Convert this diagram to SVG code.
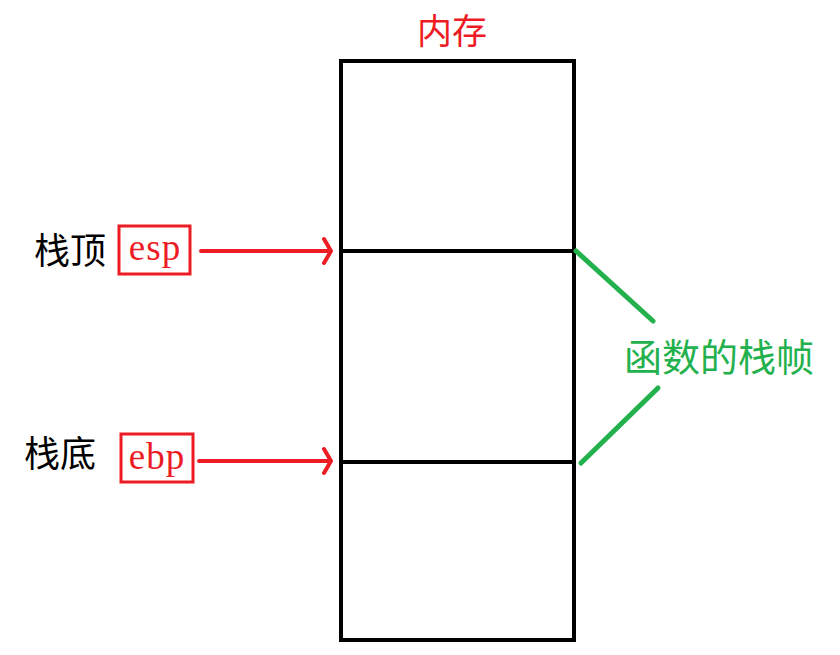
<svg xmlns="http://www.w3.org/2000/svg" width="840" height="655" viewBox="0 0 840 655">
<style>
.cjk{font-family:"Liberation Serif","Noto Sans CJK SC",serif;}
.red{fill:#ed1c24;}
.lbl{font-size:36px;fill:#000;}
.reg{font-family:"Liberation Serif",serif;font-size:37px;letter-spacing:1px;fill:#ed1c24;}
.box{fill:none;stroke:#ed1c24;stroke-width:3;}
.arr{fill:none;stroke:#ed1c24;stroke-width:4;stroke-linecap:round;stroke-linejoin:round;}
.grn{stroke:#22b14c;stroke-width:5;stroke-linecap:round;}
</style>
<rect width="840" height="655" fill="#fff"/>
<g id="memory">
<text class="cjk red" x="452" y="44" font-size="35" text-anchor="middle">内存</text>
<rect x="341" y="61" width="233" height="579" fill="none" stroke="#000" stroke-width="4"/>
<line x1="341" y1="251" x2="574" y2="251" stroke="#000" stroke-width="4"/>
<line x1="341" y1="462" x2="574" y2="462" stroke="#000" stroke-width="4"/>
</g>
<g id="esp">
<text class="cjk lbl" x="34" y="264">栈顶</text>
<rect class="box" x="119" y="226" width="71" height="48"/>
<text class="reg" x="155" y="260" text-anchor="middle">esp</text>
</g>
<g id="ebp">
<text class="cjk lbl" x="24" y="467">栈底</text>
<rect class="box" x="121" y="434" width="72" height="48"/>
<text class="reg" x="157" y="469" text-anchor="middle">ebp</text>
</g>
<g id="frame">
<text class="cjk" x="624" y="371" font-size="38" fill="#22b14c">函数的栈帧</text>
</g>
<g id="connectors">
<path class="arr" d="M201 251 H330 M324 239 L331 251 L324 263"/>
<path class="arr" d="M199 461 H330 M324 449 L331 461 L324 473"/>
<line class="grn" x1="576" y1="251" x2="653" y2="321"/>
<line class="grn" x1="581" y1="463" x2="658" y2="388"/>
</g>
</svg>
